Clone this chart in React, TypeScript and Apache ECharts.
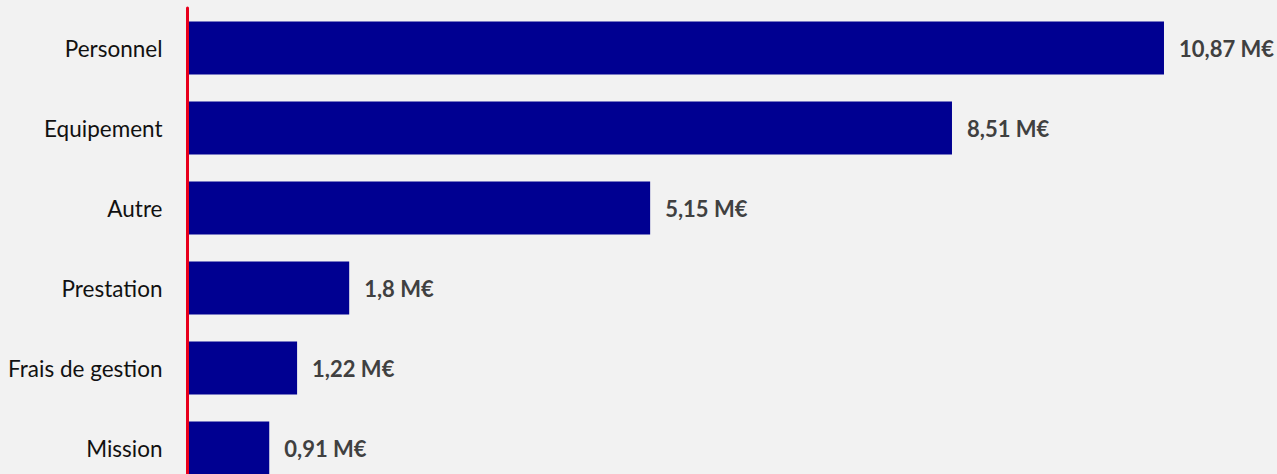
import React, { useEffect, useRef } from "react";
import * as echarts from "echarts";

const categories = ["Personnel", "Equipement", "Autre", "Prestation", "Frais de gestion", "Mission"];
const values = [10.87, 8.51, 5.15, 1.8, 1.22, 0.91];
const unit = "M€";

export default function App() {
  const ref = useRef<HTMLDivElement>(null);
  useEffect(() => {
    if (!ref.current) return;
    const chart = echarts.init(ref.current, null, { renderer: "svg" });
    chart.setOption({
      animation: false,
      backgroundColor: "#f2f2f2",
      grid: { left: 187.5, right: 11.5, top: 8, bottom: 0, containLabel: false },
      xAxis: { type: "value", min: 0, max: 12, show: false },
      yAxis: {
        type: "category",
        data: categories,
        inverse: true,
        z: 5,
        axisLine: { show: true, lineStyle: { color: "#e8001c", width: 3 } },
        axisTick: { show: false },
        axisLabel: { margin: 25, fontSize: 22.5, fontFamily: "Lato", color: "#111111" },
      },
      series: [
        {
          type: "bar",
          data: values,
          barWidth: 53,
          itemStyle: { color: "#000091" },
          label: {
            show: true,
            position: "right",
            distance: 15,
            fontSize: 22,
            fontWeight: "bold",
            fontFamily: "Lato",
            color: "#404040",
            formatter: (p: any) => String(p.value).replace(".", ",") + " " + unit,
          },
        },
      ],
    });
    return () => chart.dispose();
  }, []);
  return (
    <div style={{ position: "fixed", left: 0, top: 0, width: 1277, height: 474, overflow: "hidden", background: "#f2f2f2" }}>
      <div ref={ref} style={{ width: 1277, height: 488 }} />
    </div>
  );
}
